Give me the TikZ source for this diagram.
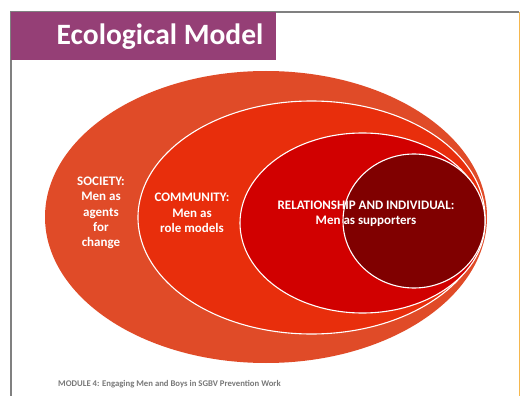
\documentclass[tikz,border=0pt]{standalone}
\usepackage{fontspec}
\setmainfont{Carlito}
\definecolor{titlepurple}{RGB}{149,63,118}
\definecolor{framegray}{RGB}{128,128,128}
\definecolor{frameorange}{RGB}{245,183,78}
\definecolor{society}{RGB}{224,75,40}
\definecolor{community}{RGB}{232,46,12}
\definecolor{relation}{RGB}{209,0,0}
\definecolor{individual}{RGB}{128,0,0}
\definecolor{footgray}{RGB}{120,120,120}
\tikzset{
  ring/.style={draw=white, line width=1.1pt},
  label/.style={text=white, font=\bfseries\fontsize{13}{15.3}\selectfont, align=center, inner sep=0pt},
}
\begin{document}
\begin{tikzpicture}[x=1pt,y=-1pt]
\useasboundingbox (0,0) rectangle (520,396);
\fill[white] (0,0) rectangle (520,396);
% frame
\draw[framegray, line width=1.2pt] (11,396) -- (11,12) -- (519,12);
\draw[frameorange, line width=1.5pt] (519.5,12) -- (519.5,396);
% title
\fill[titlepurple] (11,12) rectangle (276,60);
\node[text=white, font=\bfseries\fontsize{29.5}{33}\selectfont, inner sep=0pt] (title) at (160,37) {Ecological Model};
% ellipses
\fill[society] (266,217) ellipse [x radius=221pt, y radius=146pt];
\filldraw[fill=community, ring] (311.5,217.5) ellipse [x radius=173.5pt, y radius=116.5pt];
\filldraw[fill=relation, ring] (362.5,223) ellipse [x radius=122.5pt, y radius=90pt];
\filldraw[fill=individual, ring] (414,221) ellipse [x radius=71pt, y radius=67pt];
% labels
\node[label] (soc) at (101,213) {SOCIETY:\\Men as\\agents\\for\\change};
\node[label] (com) at (192,213) {COMMUNITY:\\Men as\\role models};
\node[label] (rel) at (366,214) {RELATIONSHIP AND INDIVIDUAL:\\Men as supporters};
% footer
\node[text=footgray, font=\bfseries\fontsize{8.7}{10}\selectfont, anchor=west, inner sep=0pt] (foot) at (58,384) {MODULE 4: Engaging Men and Boys in SGBV Prevention Work};
\end{tikzpicture}
\end{document}
